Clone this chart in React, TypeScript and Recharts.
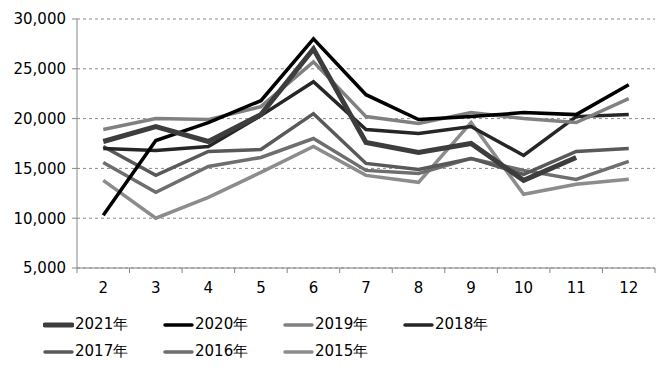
import React from 'react';
import { LineChart, Line, XAxis, YAxis, CartesianGrid } from 'recharts';

document.body.style.margin = '0';

const months = [2, 3, 4, 5, 6, 7, 8, 9, 10, 11, 12];
const yTicks = [5000, 10000, 15000, 20000, 25000, 30000];

const y2021 = [17700, 19200, 17700, 20400, 27000, 17600, 16600, 17500, 13800, 16100, null];
const y2020 = [10300, 17800, 19600, 21800, 28000, 22400, 19900, 20200, 20600, 20400, 23400];
const y2019 = [18900, 20000, 19900, 21200, 25700, 20200, 19500, 20600, 20000, 19600, 22000];
const y2018 = [17000, 16800, 17200, 20300, 23700, 18900, 18500, 19200, 16300, 20200, 20400];
const y2017 = [17200, 14300, 16700, 16900, 20500, 15500, 14900, 16000, 14400, 16700, 17000];
const y2016 = [15600, 12600, 15200, 16100, 18000, 14800, 14500, 16000, 14800, 13900, 15700];
const y2015 = [13800, 10000, 12100, 14600, 17200, 14300, 13600, 19600, 12400, 13400, 13900];

const series = [
  { key: 'y2021', name: '2021年', color: '#3d3d3d', width: 5 },
  { key: 'y2020', name: '2020年', color: '#000000', width: 3.5 },
  { key: 'y2019', name: '2019年', color: '#808080', width: 3.5 },
  { key: 'y2018', name: '2018年', color: '#262626', width: 3.5 },
  { key: 'y2017', name: '2017年', color: '#595959', width: 3.5 },
  { key: 'y2016', name: '2016年', color: '#6e6e6e', width: 3.5 },
  { key: 'y2015', name: '2015年', color: '#8c8c8c', width: 3.5 },
];

const data = months.map((m, i) => ({
  month: m,
  y2021: y2021[i],
  y2020: y2020[i],
  y2019: y2019[i],
  y2018: y2018[i],
  y2017: y2017[i],
  y2016: y2016[i],
  y2015: y2015[i],
}));

// label ticks at each month, boundary tick marks half-way between
const xTicks = months.flatMap(m => [m - 0.5, m]).concat(months[months.length - 1] + 0.5);

const FONT = '"DejaVu Sans", sans-serif';

const XTick = (props: any) => {
  const { x, y, payload } = props;
  if (!Number.isInteger(payload.value)) {
    return <line x1={x} y1={y} x2={x} y2={y + 5} stroke="#868686" strokeWidth={1} />;
  }
  return (
    <text x={x} y={y + 25} textAnchor="middle" fontSize={15} fontFamily={FONT} fill="#000">
      {payload.value}
    </text>
  );
};

const Legend2 = () => (
  <div style={{ position: 'relative', width: 666, height: 70 }}>
    {series.map((s, i) => {
      const col = i % 4;
      const row = Math.floor(i / 4);
      return (
        <div
          key={s.key}
          style={{
            position: 'absolute',
            left: 43 + col * 120,
            top: 17 + row * 27,
            display: 'flex',
            alignItems: 'center',
            fontFamily: FONT,
            fontSize: 15,
            color: '#000',
          }}
        >
          <svg width={31} height={8}>
            <line x1={2} y1={4} x2={29} y2={4} stroke={s.color} strokeWidth={s.width} strokeLinecap="round" />
          </svg>
          <span style={{ marginLeft: 1 }}>{s.name}</span>
        </div>
      );
    })}
  </div>
);

export default function App() {
  return (
    <div style={{ width: 666, height: 368, background: '#fff' }}>
      <LineChart width={666} height={298} data={data} margin={{ top: 19, right: 11, left: 0, bottom: 0 }}>
        <CartesianGrid vertical={false} strokeDasharray="3 3" stroke="#8a8a8a" />
        <XAxis
          dataKey="month"
          type="number"
          domain={[1.5, 12.5]}
          ticks={xTicks}
          interval={0}
          height={30}
          tickLine={false}
          tickSize={0}
          tickMargin={0}
          axisLine={{ stroke: '#868686' }}
          tick={<XTick />}
        />
        <YAxis
          domain={[5000, 30000]}
          ticks={yTicks}
          width={77}
          tickSize={5}
          tickMargin={6}
          tickLine={{ stroke: '#868686' }}
          axisLine={{ stroke: '#868686' }}
          tickFormatter={(v: number) => v.toLocaleString('en-US')}
          tick={{ fontSize: 15, fontFamily: FONT, fill: '#000' }}
        />
        {[...series].reverse().map(s => (
          <Line
            key={s.key}
            type="linear"
            dataKey={s.key}
            name={s.name}
            stroke={s.color}
            strokeWidth={s.width}
            dot={false}
            activeDot={false}
            isAnimationActive={false}
          />
        ))}
      </LineChart>
      <Legend2 />
    </div>
  );
}
